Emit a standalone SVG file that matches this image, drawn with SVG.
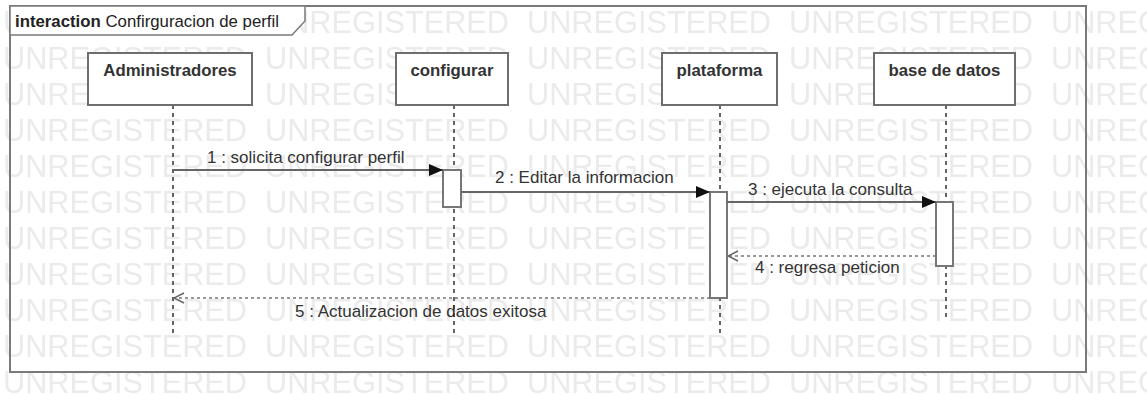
<svg xmlns="http://www.w3.org/2000/svg" width="1147" height="395" viewBox="0 0 1147 395">
<style>
.wm{font-family:"Liberation Sans",Arial,sans-serif;font-size:32px;fill:#ebebeb}
.box{fill:#fff;stroke:#6e6e6e;stroke-width:2}
.act{fill:#fff;stroke:#777;stroke-width:2}
.life{stroke:#333;stroke-width:1.5;stroke-dasharray:4 4;fill:none}
.msg{stroke:#666;stroke-width:2;fill:none}
.ret{stroke:#777;stroke-width:1.5;stroke-dasharray:3 3;fill:none}
.nl{font-family:"Liberation Sans",Arial,sans-serif;font-size:16.8px;font-weight:bold;fill:#333;text-anchor:middle}
.ml{font-family:"Liberation Sans",Arial,sans-serif;font-size:17px;fill:#333}
</style>
<defs>
<pattern id="wmp" patternUnits="userSpaceOnUse" x="3" y="3" width="262" height="36">
<text class="wm" x="0" y="30" textLength="244" lengthAdjust="spacingAndGlyphs">UNREGISTERED</text>
</pattern>
<marker id="fill" markerWidth="14" markerHeight="12" refX="14" refY="6" orient="auto" markerUnits="userSpaceOnUse">
<path d="M0,0 L14,6 L0,12 Z" fill="#111"/>
</marker>
<marker id="open" markerWidth="12" markerHeight="12" refX="11" refY="6" orient="auto" markerUnits="userSpaceOnUse">
<path d="M1,1 L11,6 L1,11" fill="none" stroke="#666" stroke-width="1.5"/>
</marker>
</defs>
<rect x="0" y="0" width="1147" height="395" fill="#fff"/>
<rect id="watermark" x="0" y="0" width="1147" height="395" fill="url(#wmp)"/>
<g id="frame">
<rect x="10" y="6" width="1076" height="366" fill="none" stroke="#7a7a7a" stroke-width="2"/>
<path d="M10,6 H305 V21 L292,35 H10 Z" fill="#fff" stroke="#7a7a7a" stroke-width="1.5"/>
<text x="15" y="27" font-family="Liberation Sans, Arial, sans-serif" font-size="16.8" fill="#222"><tspan font-weight="bold">interaction</tspan> Confirguracion de perfil</text>
</g>
<g id="lifelines">
<line class="life" x1="173" y1="105" x2="173" y2="334"/>
<line class="life" x1="454" y1="105" x2="454" y2="334"/>
<line class="life" x1="720" y1="105" x2="720" y2="334"/>
<line class="life" x1="946" y1="105" x2="946" y2="320"/>
</g>
<g id="n-administradores">
<rect class="box" x="88" y="53" width="164" height="52"/>
<text class="nl" x="170" y="76">Administradores</text>
</g>
<g id="n-configurar">
<rect class="box" x="396" y="53" width="112" height="52"/>
<text class="nl" x="452" y="76">configurar</text>
</g>
<g id="n-plataforma">
<rect class="box" x="662" y="53" width="115" height="52"/>
<text class="nl" x="719.5" y="76">plataforma</text>
</g>
<g id="n-base">
<rect class="box" x="874" y="53" width="141" height="52"/>
<text class="nl" x="944.5" y="76">base de datos</text>
</g>
<g id="activations">
<rect class="act" x="443" y="170" width="18" height="37"/>
<rect class="act" x="710" y="192" width="17" height="106"/>
<rect class="act" x="936" y="202" width="17" height="64"/>
</g>
<g id="connectors">
<line class="msg" x1="173" y1="170" x2="443" y2="170" marker-end="url(#fill)"/>
<line class="msg" x1="461" y1="192" x2="710" y2="192" marker-end="url(#fill)"/>
<line class="msg" x1="727" y1="202" x2="936" y2="202" marker-end="url(#fill)"/>
<line class="ret" x1="936" y1="256" x2="728" y2="256" marker-end="url(#open)"/>
<line class="ret" x1="710" y1="298" x2="174" y2="298" marker-end="url(#open)"/>
<text class="ml" x="207" y="163">1 : solicita configurar perfil</text>
<text class="ml" x="495" y="183">2 : Editar la informacion</text>
<text class="ml" x="748" y="195">3 : ejecuta la consulta</text>
<text class="ml" x="755" y="273">4 : regresa peticion</text>
<text class="ml" x="295" y="317">5 : Actualizacion de datos exitosa</text>
</g>
</svg>
